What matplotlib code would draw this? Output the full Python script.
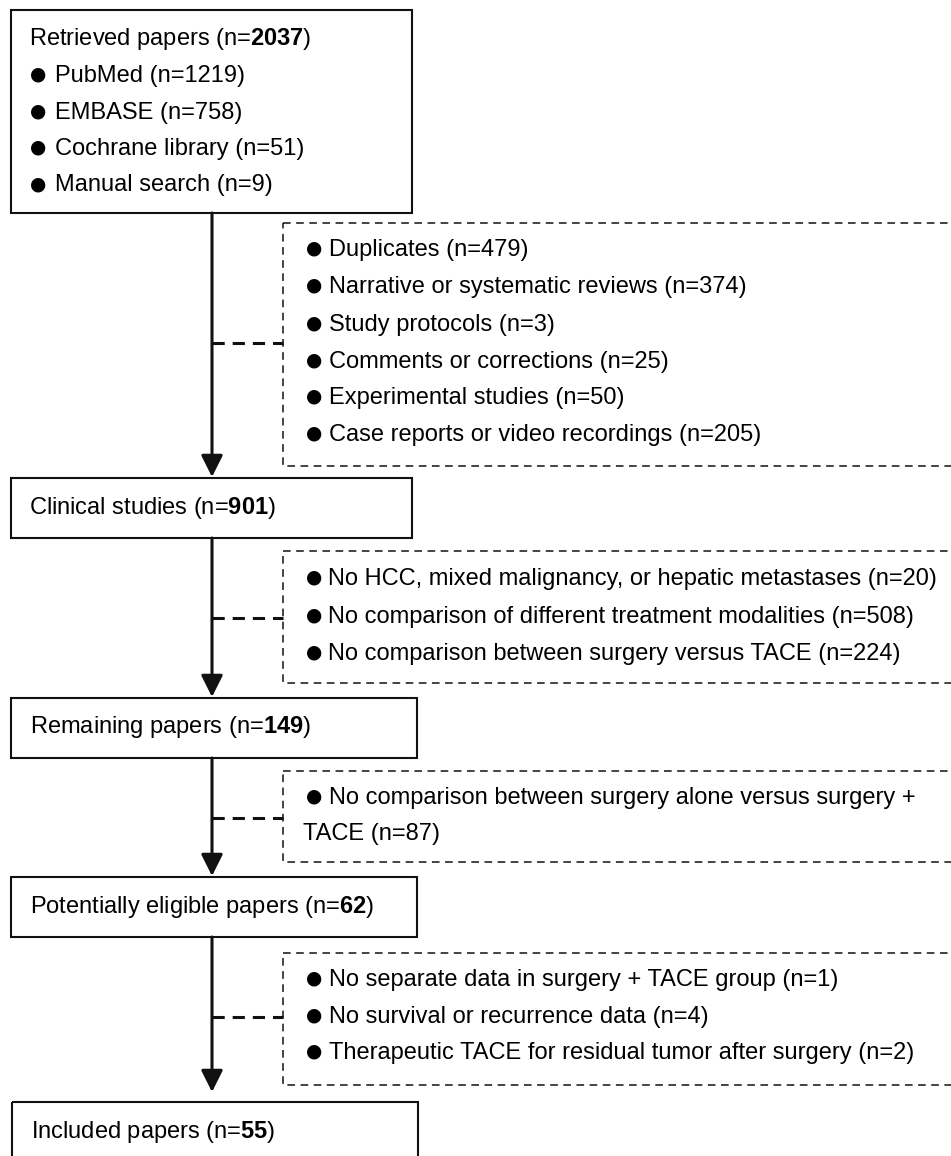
import matplotlib
matplotlib.use("Agg")
import matplotlib.pyplot as plt
from matplotlib.patches import Rectangle

plt.rcParams["font.family"] = ["Liberation Sans", "DejaVu Sans"]
plt.rcParams["mathtext.fontset"] = "custom"
plt.rcParams["mathtext.rm"] = "Liberation Sans"
plt.rcParams["mathtext.bf"] = "Liberation Sans:bold"

# flow stages
stage_labels = ["Retrieved papers", "Clinical studies", "Remaining papers",
                "Potentially eligible papers", "Included papers"]
stage_counts = [2037, 901, 149, 62, 55]

source_labels = ["PubMed", "EMBASE", "Cochrane library", "Manual search"]
source_counts = [1219, 758, 51, 9]

# exclusions between stages
excl1_labels = ["Duplicates", "Narrative or systematic reviews", "Study protocols",
                "Comments or corrections", "Experimental studies",
                "Case reports or video recordings"]
excl1_counts = [479, 374, 3, 25, 50, 205]
excl2_labels = ["No HCC, mixed malignancy, or hepatic metastases",
                "No comparison of different treatment modalities",
                "No comparison between surgery versus TACE"]
excl2_counts = [20, 508, 224]
excl3_labels = ["No comparison between surgery alone versus surgery + TACE"]
excl3_counts = [87]
excl4_labels = ["No separate data in surgery + TACE group",
                "No survival or recurrence data",
                "Therapeutic TACE for residual tumor after surgery"]
excl4_counts = [1, 4, 2]

FS = 17
MAIN_X = 212
BULLET = dict(family=["DejaVu Sans"], fontsize=13.5, va="center", ha="left")

fig = plt.figure(figsize=(9.51, 11.56), dpi=100)
ax = fig.add_axes([0, 0, 1, 1])
ax.set_xlim(0, 951)
ax.set_ylim(1156, 0)
ax.axis("off")


def solid_box(x0, x1, y0, y1):
    ax.add_patch(Rectangle((x0, y0), x1 - x0, y1 - y0, fill=False,
                           ec="#111111", lw=1.5))


def dashed_box(y0, y1, conn_y):
    ax.add_patch(Rectangle((283, y0), 700, y1 - y0, fill=False, ec="#111111",
                           lw=1.1, ls=(0, (5, 3.6))))
    ax.plot([MAIN_X, 283], [conn_y, conn_y], color="#111111", lw=2.2,
            ls=(0, (4, 2.6)), solid_capstyle="butt")


def arrow(y0, y1):
    ax.annotate("", xy=(MAIN_X, y1), xytext=(MAIN_X, y0),
                arrowprops=dict(arrowstyle="-|>,head_length=0.6,head_width=0.3",
                                mutation_scale=22, lw=2.2, color="#111111",
                                shrinkA=0, shrinkB=0))


def stage_text(i, x, y):
    ax.text(x, y, f"{stage_labels[i]} (n=$\\mathbf{{{stage_counts[i]}}}$)",
            fontsize=FS, va="center", ha="left")


def bullet_rows(labels, counts, ys, bx, tx, fs=FS):
    for lab, n, y in zip(labels, counts, ys):
        ax.text(bx, y - 2, "\u25cf", **BULLET)
        ax.text(tx, y, f"{lab} (n={n})", fontsize=fs, va="center", ha="left")


# solid stage boxes
solid_box(11, 412, 10, 213)
solid_box(11, 412, 478, 538)
solid_box(11, 417, 698, 758)
solid_box(11, 417, 877, 937)
solid_box(12, 418, 1102, 1200)

stage_text(0, 29, 39)
bullet_rows(source_labels, source_counts, [76, 112.5, 149, 185.5], 30, 55)
stage_text(1, 29, 508)
stage_text(2, 30, 727)
stage_text(3, 30, 907)
stage_text(4, 31, 1132)

# main arrows
arrow(213, 477)
arrow(538, 697)
arrow(758, 876)
arrow(937, 1092)

# exclusion boxes
dashed_box(223, 466, 343)
bullet_rows(excl1_labels, excl1_counts, [250, 287, 325, 362, 398, 435], 306, 329)

dashed_box(551, 683, 618)
bullet_rows(excl2_labels, excl2_counts, [579, 617, 654], 306, 328, fs=17)

dashed_box(771, 862, 818)
first, rest = excl3_labels[0].rsplit(" ", 1)
ax.text(306, 796, "\u25cf", **BULLET)
ax.text(329, 798, first, fontsize=FS, va="center", ha="left")
ax.text(303, 834, f"{rest} (n={excl3_counts[0]})", fontsize=FS, va="center", ha="left")

dashed_box(953, 1085, 1017)
bullet_rows(excl4_labels, excl4_counts, [980, 1017, 1053], 306, 329)

fig.savefig("out.png", dpi=100)
